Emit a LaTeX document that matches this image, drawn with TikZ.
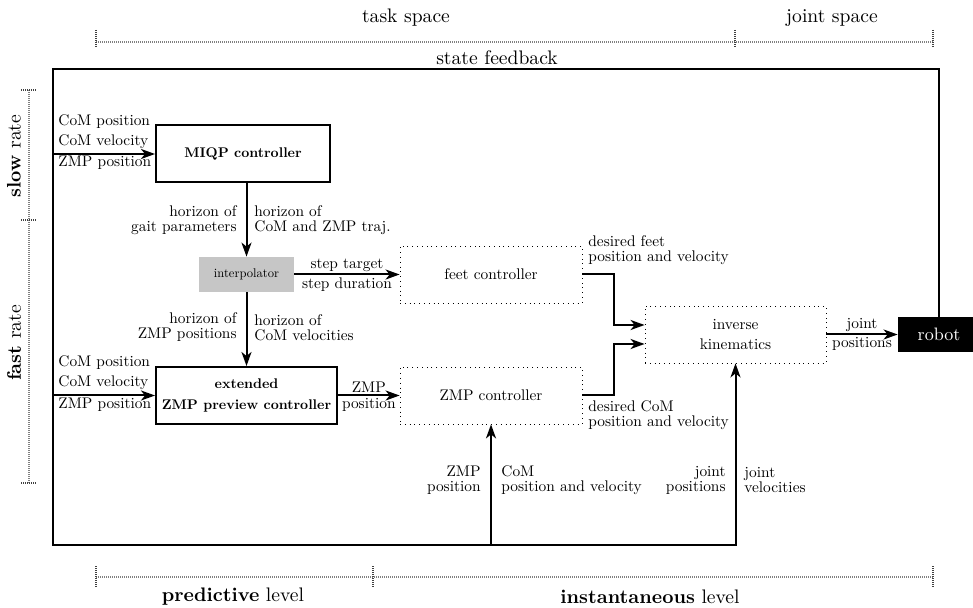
\documentclass[tikz,border=0pt]{standalone}
\usepackage{fontspec}
\setmainfont{lmroman10-regular.otf}[BoldFont=lmroman10-bold.otf]
\usetikzlibrary{arrows.meta,positioning}

\begin{document}
\begin{tikzpicture}[x=0.5pt,y=-0.5pt,
  >={Stealth[length=7pt,width=5pt,inset=2pt]},
  sig/.style={line width=1pt},
  lbl/.style={inner sep=1pt,font=\fontsize{7.7}{7.5}\selectfont},
  big/.style={inner sep=1pt,font=\fontsize{9.8}{12}\selectfont},
  solidbox/.style={draw,line width=1pt,inner sep=1pt,minimum height=28.5pt,align=center,font=\fontsize{7}{10.5}\selectfont\bfseries},
  dotbox/.style={draw,dotted,minimum width=91pt,minimum height=28.5pt,align=center,font=\fontsize{7.7}{10}\selectfont},
  bar/.style={black!50,dash pattern=on 0.5pt off 0.5pt,line width=0.6pt},
  tck/.style={black!75,dash pattern=on 0.5pt off 0.5pt,line width=0.6pt}]

\useasboundingbox (0,0) rectangle (973,608);

% scales round the picture
\draw[bar] (96,42) -- (933,42);
\foreach \x in {96,735,933} \draw[tck] (\x,30) -- (\x,48);
\node[big] (taskspace) at (406,18) {task space};
\node[big] (jointspace) at (832,18) {joint space};

\draw[bar] (96,577) -- (933,577);
\foreach \x in {96,373,933} \draw[tck] (\x,566) -- (\x,588);
\node[big] (predictive) at (233,597) {\textbf{predictive} level};
\node[big] (instant) at (650,597) {\textbf{instantaneous} level};

\draw[bar] (29,90) -- (29,483);
\foreach \y in {90,220,483} \draw[tck] (21,\y) -- (37,\y);
\node[big,rotate=90] (slowrate) at (14,156) {\textbf{slow} rate};
\node[big,rotate=90] (fastrate) at (14,343) {\textbf{fast} rate};

% blocks
\node[solidbox,minimum width=87pt] (miqp) at (243,154) {MIQP controller};
\node[fill=gray!45,minimum width=47.5pt,minimum height=17.5pt,font=\fontsize{6.3}{8}\selectfont] (interp) at (246.5,274.5) {interpolator};
\node[solidbox,minimum width=90.5pt] (ext) at (246.5,395.5) {extended\\ZMP preview controller};
\node[dotbox] (feet) at (491,274.5) {feet controller};
\node[dotbox] (zmpctrl) at (491,395.5) {ZMP controller};
\node[dotbox,minimum width=90.5pt] (ik) at (735.5,334.5) {inverse\\kinematics};
\node[fill=black,text=white,minimum width=41pt,minimum height=17.5pt,font=\fontsize{9}{12}\selectfont] (robot) at (939,334.5) {robot};

\coordinate (fbtl) at (53,69);
\coordinate (fbbl) at (53,545);

% state feedback
\draw[sig,->] (robot.north) |- (fbtl) -- (fbbl) -| (ik.south);
\node[big] (feedback) at (497,58) {state feedback};
\draw[sig,->] (fbtl |- miqp.west) -- (miqp.west);
\draw[sig,->] (fbtl |- ext.west) -- (ext.west);
\draw[sig,->] (fbbl -| zmpctrl.south) -- (zmpctrl.south);

\node[lbl,anchor=west] (in1) at (56,122) {CoM position};
\node[lbl,anchor=west] (in2) at (56,142) {CoM velocity};
\node[lbl,anchor=west] (in3) at (56,163) {ZMP position};
\node[lbl,anchor=west] (in4) at (56,363) {CoM position};
\node[lbl,anchor=west] (in5) at (56,383) {CoM velocity};
\node[lbl,anchor=west] (in6) at (56,405) {ZMP position};

% signals between blocks
\draw[sig,->] (interp.north |- miqp.south) -- (interp.north);
\node[lbl,anchor=east,align=right] (hz1) at (239,220.5) {horizon of\\gait parameters};
\node[lbl,anchor=west,align=left] (hz2) at (252,220.5) {horizon of\\CoM and ZMP traj.};

\draw[sig,->] (interp.south) -- (ext.north);
\node[lbl,anchor=east,align=right] (hz3) at (239,327.5) {horizon of\\ZMP positions};
\node[lbl,anchor=west,align=left] (hz4) at (252,327.5) {horizon of\\CoM velocities};

\draw[sig,->] (interp.east) -- node[lbl,above] {step target} node[lbl,below] {step duration} (feet.west);
\draw[sig,->] (ext.east) -- node[lbl,above] {ZMP} node[lbl,below] {position} (zmpctrl.west);

\draw[sig,->] (feet.east) -- ++(32,0) |- ([yshift=4.75pt]ik.west);
\draw[sig,->] (zmpctrl.east) -- ++(32,0) |- ([yshift=-4.75pt]ik.west);
\node[lbl,anchor=west,align=left] (dfeet) at (586,250.5) {desired feet\\position and velocity};
\node[lbl,anchor=west,align=left] (dcom) at (586,415) {desired CoM\\position and velocity};

\draw[sig,->] (ik.east) -- node[lbl,above] {joint} node[lbl,below] {positions} (robot.west);

\node[lbl,anchor=east,align=right] (zmpfb) at (483,480) {ZMP\\position};
\node[lbl,anchor=west,align=left] (comfb) at (499,480) {CoM\\position and velocity};
\node[lbl,anchor=east,align=right] (jposfb) at (728,480) {joint\\positions};
\node[lbl,anchor=west,align=left] (jvelfb) at (742,480) {joint\\velocities};
\end{tikzpicture}
\end{document}
